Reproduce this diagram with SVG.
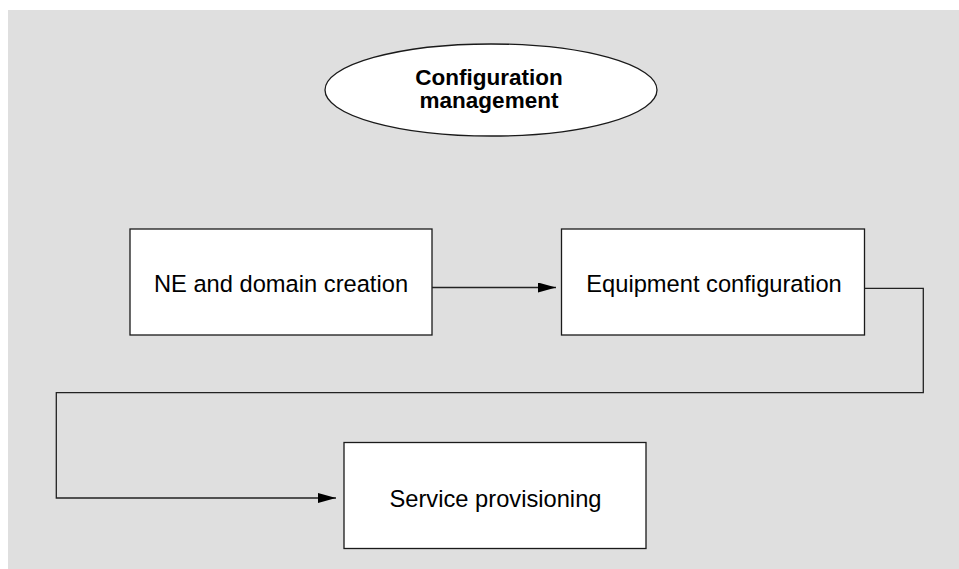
<svg xmlns="http://www.w3.org/2000/svg" width="959" height="569" viewBox="0 0 959 569">
  <style>
    .bg { fill: #dfdfdf; }
    .node { fill: #ffffff; stroke: #1a1a1a; stroke-width: 1.3; }
    .label { font-family: "Liberation Sans", Arial, sans-serif; font-size: 23.7px; fill: #000000; text-anchor: middle; }
    .bold { font-weight: bold; font-size: 22.5px; }
    .conn { fill: none; stroke: #222222; stroke-width: 1.3; }
  </style>
  <defs>
    <marker id="arrow" markerUnits="userSpaceOnUse" markerWidth="18" markerHeight="10" refX="18" refY="5" orient="auto">
      <path d="M0,0 L18,5 L0,10 Z" fill="#000000"/>
    </marker>
  </defs>
  <rect class="bg" x="8" y="10" width="951" height="559"/>
  <g id="nodes">
    <g id="config-management">
      <ellipse class="node" cx="491" cy="90" rx="166" ry="46"/>
      <text class="label bold" x="489" y="84.5">Configuration</text>
      <text class="label bold" x="489" y="107.5">management</text>
    </g>
    <g id="ne-domain-creation">
      <rect class="node" x="130" y="229" width="302" height="106"/>
      <text class="label" x="281" y="292">NE and domain creation</text>
    </g>
    <g id="equipment-configuration">
      <rect class="node" x="561.5" y="229" width="303" height="106"/>
      <text class="label" x="714" y="292">Equipment configuration</text>
    </g>
    <g id="service-provisioning">
      <rect class="node" x="344" y="442.5" width="302" height="106"/>
      <text class="label" x="495.5" y="507">Service provisioning</text>
    </g>
  </g>
  <g id="connectors">
    <path class="conn" d="M432,287.5 L556,287.5" marker-end="url(#arrow)"/>
    <path class="conn" d="M864.5,288.3 L923.3,288.3 L923.3,392.7 L56.3,392.7 L56.3,498 L336,498" marker-end="url(#arrow)"/>
  </g>
</svg>
